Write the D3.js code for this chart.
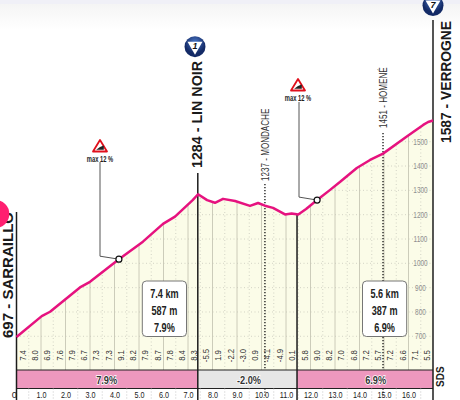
<!DOCTYPE html>
<html>
<head>
<meta charset="utf-8">
<script src="https://cdn.jsdelivr.net/npm/d3@7/dist/d3.min.js"></script>
<style>
html,body{margin:0;padding:0;background:#fff;overflow:hidden}
svg{display:block}
text{font-family:"Liberation Sans",sans-serif}
</style>
</head>
<body>
<svg id="chart" width="460" height="400"></svg>
<script>
// Road profile: distance in km, altitude in m
const profileKm = [0,1.03,1.37,2.59,3.0,4.18,5.16,5.98,6.47,7.19,7.41,7.78,8.10,8.43,8.92,9.53,9.86,10.14,10.47,10.96,11.23,11.5,11.82,12.27,12.8,13.2,13.89,14.43,14.96,15.93,16.6,16.8,17.0];
const profileAlt = [697,783,801,901,924,1017,1089,1162,1192,1260,1284,1260,1249,1265,1256,1236,1248,1237,1228,1201,1205,1201,1223,1260,1302,1334,1392,1425,1451,1521,1569,1581,1587];

const altTicks = [700,800,900,1000,1100,1200,1300,1400,1500];
const kmTicks = [1,2,3,4,5,6,7,8,9,10,11,12,13,14,15,16];
const halfKmTicks = [0.5,1.5,2.5,3.5,4.5,5.5,6.5,7.5,8.5,9.5,10.5,11.5,12.5,13.5,14.5,15.5,16.5];

// Half-kilometre gradients, one list per section
const gradientsA = ["7.4","8.0","6.9","7.6","7.9","6.7","7.3","7.3","9.1","8.2","7.9","8.7","7.8","8.4","8.3"];
const gradientsB = ["-5.5","1.9","-2.2","-3.0","0.9","-4.1","-4.9","0.1"];
const gradientsC = ["5.8","9.0","8.2","7.0","6.8","7.2","5.7","7.2","6.6","7.1","5.5"];

const sectionStart = [0,7.4,11.45];
const sectionEnd = [7.4,11.45,17.0];
const sectionLabel = ["7.9%","-2.0%","6.9%"];
const sectionLabelKm = [3.68,9.49,14.66];
const sectionFill = ["#ee98be","#e6e6e6","#ee98be"];

const summaryKm = [[7.4,"7.4 km","587 m","7.9%"],[14.55,"5.6 km","387 m","6.9%"]];
const passKm = [0,7.4,11.45,17.0];

const waypointName = ["1237 - MONDACHE","1451 - HOMENÉ"];
const waypointKm = [10.14,14.96];
const steepKm = [4.18,12.27];
const steepAlt = [1017,1260];

const x = d3.scaleLinear().domain([0,17]).range([16.5,433]);
const y = d3.scaleLinear().domain([700,1500]).range([336.3,141.7]);
const floorY = 370, bandBottom = 388.5, pageBottom = 400;

// Squeezes text sideways, standing in for a condensed face
const condense = (sel,factor)=>sel.each(function(){
  this.setAttribute("textLength",this.getComputedTextLength()*factor);
  this.setAttribute("lengthAdjust","spacingAndGlyphs");
});

const svg = d3.select("#chart");
const defs = svg.append("defs");
const profile = d3.range(profileKm.length).map(i=>({km:profileKm[i],alt:profileAlt[i]}));

// Soft header strip
const fade = defs.append("linearGradient").attr("id","fade").attr("x1",0).attr("x2",0).attr("y1",0).attr("y2",1);
fade.append("stop").attr("offset",0).attr("stop-color","#f3f3f3");
fade.append("stop").attr("offset",1).attr("stop-color","#ffffff");
svg.append("rect").attr("width",460).attr("height",30).attr("fill","url(#fade)");
svg.append("rect").attr("width",460).attr("height",4).attr("fill","#f0f0f7");

// Area under the road
const area = d3.area().x(d=>x(d.km)).y0(floorY).y1(d=>y(d.alt));
defs.append("clipPath").attr("id","under").append("path").attr("d",area(profile));
svg.append("path").attr("d",area(profile)).attr("fill","#fbfce8");

const grid = svg.append("g").attr("clip-path","url(#under)");
grid.selectAll("line.alt").data(altTicks).join("line").attr("class","alt")
  .attr("x1",x(0)).attr("x2",x(17)).attr("y1",d=>y(d)).attr("y2",d=>y(d))
  .attr("stroke","#c9c9bd").attr("stroke-width",0.8).attr("stroke-dasharray","1 2.5");
grid.selectAll("line.km").data(kmTicks).join("line").attr("class","km")
  .attr("x1",d=>x(d)).attr("x2",d=>x(d)).attr("y1",100).attr("y2",floorY)
  .attr("stroke","#c6c6b4").attr("stroke-width",0.9);
grid.selectAll("line.half").data(halfKmTicks).join("line").attr("class","half")
  .attr("x1",d=>x(d)).attr("x2",d=>x(d)).attr("y1",100).attr("y2",floorY)
  .attr("stroke","#c9c9bd").attr("stroke-width",0.8).attr("stroke-dasharray","1 2.5");

// Altitude scale on the right of the last climb
condense(svg.append("g").selectAll("text").data(altTicks).join("text")
  .attr("x",420.5).attr("y",d=>y(d)+3).attr("text-anchor","middle")
  .attr("font-size",8.5).attr("fill","#8f8f8f").text(d=>d),0.76);

// Gradient readings along the base of the profile
[[gradientsA,0],[gradientsB,7.48],[gradientsC,11.5]].forEach(([vals,start])=>{
  condense(svg.append("g").selectAll("text").data(vals).join("text")
    .attr("transform",(d,i)=>`translate(${x(start+0.25+i*0.5)+3.3},355.5) rotate(-90)`)
    .attr("text-anchor","middle").attr("font-size",9.3).attr("fill","#333").text(d=>d),0.83);
});

// Waypoints
svg.append("g").selectAll("line").data(waypointKm).join("line")
  .attr("x1",d=>x(d)).attr("x2",d=>x(d))
  .attr("y1",(d,i)=>i===0?184:133).attr("y2",floorY)
  .attr("stroke","#111").attr("stroke-width",1.3).attr("stroke-dasharray","1.3 1.7");
svg.append("g").selectAll("line").data(waypointKm).join("line")
  .attr("x1",d=>x(d)).attr("x2",d=>x(d)).attr("y1",bandBottom).attr("y2",396)
  .attr("stroke","#111").attr("stroke-width",1.1).attr("stroke-dasharray","1.3 1.7");
condense(svg.append("g").selectAll("text").data(waypointName).join("text")
  .attr("transform",(d,i)=>`translate(${x(waypointKm[i])+4},${i===0?181:128}) rotate(-90)`)
  .attr("font-size",10.5).attr("fill","#333").text(d=>d),0.77);

// Gradient band
svg.append("g").selectAll("rect").data(sectionLabel).join("rect")
  .attr("x",(d,i)=>x(sectionStart[i])).attr("y",floorY)
  .attr("width",(d,i)=>x(sectionEnd[i])-x(sectionStart[i])).attr("height",bandBottom-floorY)
  .attr("fill",(d,i)=>sectionFill[i]);
condense(svg.append("g").selectAll("text").data(sectionLabel).join("text")
  .attr("x",(d,i)=>x(sectionLabelKm[i])).attr("y",384)
  .attr("text-anchor","middle").attr("font-size",11.5).attr("font-weight","bold")
  .attr("fill","#333").attr("stroke","#fff").attr("stroke-width",1.6).attr("paint-order","stroke").text(d=>d),0.8);
[floorY,bandBottom].forEach(v=>svg.append("line").attr("x1",x(0)).attr("x2",x(17))
  .attr("y1",v).attr("y2",v).attr("stroke","#222").attr("stroke-width",1));

// Kilometre axis
const axis = d3.axisBottom(x).tickValues(kmTicks).tickSize(0).tickPadding(0).tickFormat(d3.format(".1f"));
const axisG = svg.append("g").attr("transform",`translate(0,${bandBottom+2.5})`).call(axis);
axisG.select(".domain").remove();
condense(axisG.selectAll("text").attr("font-size",9.5).attr("fill","#222").attr("font-family","Liberation Sans"),0.76);
svg.append("text").attr("x",x(0)-2).attr("y",398).attr("text-anchor","middle").attr("font-size",9.5).attr("fill","#222").text("0");
svg.append("g").selectAll("line").data(halfKmTicks).join("line")
  .attr("x1",d=>x(d)).attr("x2",d=>x(d)).attr("y1",bandBottom).attr("y2",pageBottom)
  .attr("stroke","#bbb").attr("stroke-width",0.8).attr("stroke-dasharray","1 2");

// Verticals at the passes
const passTop = [212,173,null,20];
svg.append("g").selectAll("line").data(passKm).join("line")
  .attr("x1",d=>x(d)).attr("x2",d=>x(d))
  .attr("y1",(d,i)=>passTop[i]===null?y(1201):passTop[i]).attr("y2",pageBottom)
  .attr("stroke","#1c1c1c").attr("stroke-width",1.5);

// Road line
svg.append("path").attr("d",d3.line().x(d=>x(d.km)).y(d=>y(d.alt))(profile))
  .attr("fill","none").attr("stroke","#e6127f").attr("stroke-width",2.5).attr("stroke-linejoin","round");

// Steepest points with their warning signs
const signX = [100,298], signY = [146,85], leaderTop = [162,102];
steepKm.forEach((km,i)=>{
  const px = x(km), py = y(steepAlt[i]), lx = signX[i]+(i===0?0:1);
  svg.append("path").attr("d",`M${lx} ${leaderTop[i]}V${py-3}L${px} ${py}`)
    .attr("fill","none").attr("stroke","#555").attr("stroke-width",1);
  svg.append("circle").attr("cx",px).attr("cy",py).attr("r",3).attr("fill","#fff").attr("stroke","#111").attr("stroke-width",1.2);
  const s = svg.append("g").attr("transform",`translate(${signX[i]},${signY[i]})`);
  s.append("path").attr("d","M0 -6L7 5.5H-7Z").attr("fill","#fff").attr("stroke","#e0101c").attr("stroke-width",1.8).attr("stroke-linejoin","round");
  s.append("path").attr("d","M-3.8 3.8L3.8 3.8L3.8 -0.6Q0 0 -3.8 3.8Z").attr("fill","#222");
  condense(svg.append("text").attr("x",signX[i]).attr("y",signY[i]+15.5).attr("text-anchor","middle")
    .attr("font-size",8.5).attr("font-weight","bold").attr("fill","#222").text("max 12 %"),0.68);
});

// Climb summaries
summaryKm.forEach(([endKm,a,b,c])=>{
  const right = endKm===7.4 ? 186.5 : 406.7, left = right-44.2;
  svg.append("rect").attr("x",left).attr("y",281).attr("width",44.2).attr("height",55.5).attr("rx",4)
    .attr("fill","#fff").attr("stroke","#666").attr("stroke-width",0.9);
  [a,b,c].forEach((t,i)=>condense(svg.append("text").attr("x",(left+right)/2).attr("y",[297.5,315,332][i])
    .attr("text-anchor","middle").attr("font-size",13).attr("font-weight","bold").attr("fill","#222").text(t),0.7));
});

// Place names
const placeName = ["697 - SARRAILLO","1284 - LIN NOIR","1587 - VERROGNE"];
const placeX = [12.6,202,451], placeY = [338,168,143];
const placeLength = [126,107,122];
const placeSize = [13.8,15,15];
svg.append("g").selectAll("text").data(placeName).join("text")
  .attr("transform",(d,i)=>`translate(${placeX[i]},${placeY[i]}) rotate(-90)`)
  .attr("textLength",(d,i)=>placeLength[i]).attr("lengthAdjust","spacingAndGlyphs")
  .attr("font-family","Liberation Sans").attr("font-size",(d,i)=>placeSize[i]).attr("font-weight","bold").attr("fill","#1a1a1a").text(d=>d);
svg.append("text").attr("transform","translate(444,387) rotate(-90)").attr("font-family","Liberation Sans")
  .attr("font-size",10).attr("font-weight","bold").attr("fill","#222").text("SDS");

// Sprint badges
const badgeX = [195,433], badgeY = [46.7,5.5], badgeText = ["1","7"];
const ball = defs.append("radialGradient").attr("id","ball").attr("cy",0.3);
ball.append("stop").attr("offset",0).attr("stop-color","#4b78c8");
ball.append("stop").attr("offset",1).attr("stop-color","#132a66");
badgeX.forEach((bx,i)=>{
  const g = svg.append("g").attr("transform",`translate(${bx},${badgeY[i]})`);
  g.append("circle").attr("r",10.5).attr("fill","url(#ball)");
  g.append("path").attr("d","M-7.5 -5H7.5L0 8Z").attr("fill","#fff");
  g.append("text").attr("y",2.5).attr("text-anchor","middle").attr("font-size",9).attr("font-weight","bold").attr("font-style","italic").attr("fill","#111").text(badgeText[i]);
});

// Round touch marker at the left edge
svg.append("circle").attr("cx",-4.7).attr("cy",214).attr("r",14).attr("fill","#ff1f70");
</script>
</body>
</html>
